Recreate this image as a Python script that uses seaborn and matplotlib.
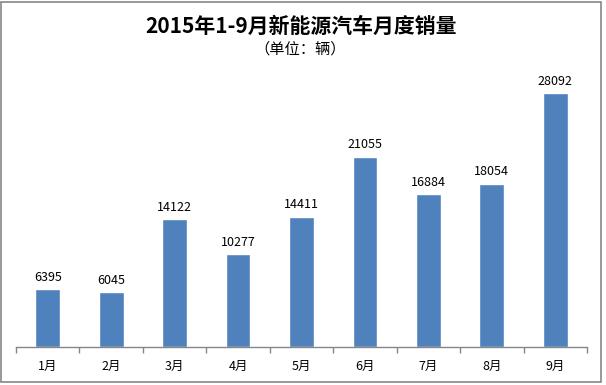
import matplotlib
matplotlib.use("Agg")
import matplotlib.pyplot as plt
import seaborn as sns
import pandas as pd
from matplotlib.patches import Rectangle

months = ["1月", "2月", "3月", "4月", "5月", "6月", "7月", "8月", "9月"]
sales = [6395, 6045, 14122, 10277, 14411, 21055, 16884, 18054, 28092]
title = "2015年1-9月新能源汽车月度销量"
subtitle = "（单位：辆）"

sns.set_theme(style="white")
plt.rcParams['font.family'] = ['Noto Sans CJK SC', 'DejaVu Sans']

W, H = 606, 385
fig = plt.figure(figsize=(W / 100, H / 100), dpi=100)
ax_left, ax_right = 16, 587
ax_bottom, ax_top = 347, 76
ax = fig.add_axes([ax_left / W, (H - ax_bottom) / H, (ax_right - ax_left) / W, (ax_bottom - ax_top) / H])

df = pd.DataFrame({"month": months, "sales": sales})
sns.barplot(data=df, x="month", y="sales", color="#4F81BD", saturation=1, width=0.39, ax=ax)
ax.set_ylim(0, 30000)
ax.set_xlim(-0.5, len(months) - 0.5)

for c in ax.containers:
    ax.bar_label(c, labels=[str(v) for v in sales], padding=4, fontsize=9, color="#000000")

ax.set_xlabel("")
ax.set_ylabel("")
ax.set_yticks([])
for s in ["top", "right", "left"]:
    ax.spines[s].set_visible(False)
ax.spines["bottom"].set_color("#868686")
ax.spines["bottom"].set_linewidth(1)
# tick marks at category boundaries
ax.set_xticks([i - 0.5 for i in range(len(months) + 1)], minor=True)
ax.tick_params(axis="x", which="minor", length=4, color="#868686", width=1, direction="out", bottom=True)
ax.tick_params(axis="x", which="major", length=0, labelsize=9, pad=9, labelcolor="#000000")

fig.text(301 / W, 1 - 26 / H, title, ha="center", va="center", fontsize=15, fontweight="bold", color="#000000")
fig.text(300 / W, 1 - 49 / H, subtitle, ha="center", va="center", fontsize=11, color="#000000")

fig.patches.append(Rectangle((1 / W, 3 / H), 600 / W, 380 / H, transform=fig.transFigure,
                             fill=False, edgecolor="#868686", linewidth=1.2))

fig.savefig("out.png", dpi=100)
